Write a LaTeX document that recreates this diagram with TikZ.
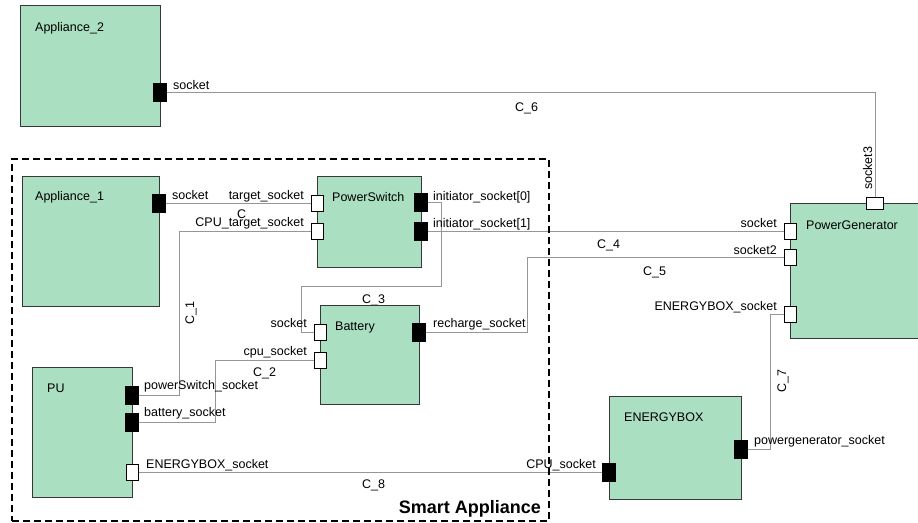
\documentclass[tikz,border=0pt]{standalone}
\usepackage{fontspec}
\setmainfont{Liberation Sans}
\usetikzlibrary{positioning}
\pgfdeclarelayer{bg}
\pgfsetlayers{bg,main}
\definecolor{blockgreen}{RGB}{170,223,193}
\definecolor{wiregray}{RGB}{150,150,150}
\definecolor{edgegray}{RGB}{55,55,55}

\begin{document}
\begin{tikzpicture}[
x=1pt, y=-1pt,
every node/.style={font=\fontsize{12.5}{14}\selectfont, inner sep=0pt},
block/.style={draw=edgegray, fill=blockgreen, line width=1pt, anchor=north west},
groupbox/.style={draw=black, line width=2.2pt, dash pattern=on 7pt off 4pt, anchor=north west},
plug/.style={draw=black, fill=black, minimum width=13pt, minimum height=18pt},
jack/.style={draw=black, fill=white, line width=0.9pt, minimum width=12pt, minimum height=16pt},
wire/.style={draw=wiregray, line width=1pt},
tag/.style={anchor=base west},
rtag/.style={anchor=base east},
vtag/.style={anchor=base west, rotate=90}
]
\useasboundingbox (0,0) rectangle (918,522);

% components
\node[groupbox, minimum width=537pt, minimum height=362pt] (smart) at (11,158) {};
\node[block, minimum width=140pt, minimum height=121pt] (app2) at (20,5) {};
\node[block, minimum width=137pt, minimum height=130pt] (app1) at (22,176) {};
\node[block, minimum width=104pt, minimum height=91pt] (pswitch) at (317,176) {};
\node[block, minimum width=99pt, minimum height=99pt] (battery) at (320,305) {};
\node[block, minimum width=100pt, minimum height=130pt] (pu) at (32,367) {};
\node[block, minimum width=132pt, minimum height=103pt] (ebox) at (609,396) {};
\node[block, minimum width=135pt, minimum height=135pt] (pgen) at (790,203) {};

\node[tag] (app2-name) at (35,31) {Appliance\_2};
\node[tag] (app1-name) at (35,200) {Appliance\_1};
\node[tag] (pswitch-name) at (332,201) {PowerSwitch};
\node[tag] (battery-name) at (335,330) {Battery};
\node[tag] (pu-name) at (47,392) {PU};
\node[tag] (ebox-name) at (624,421) {ENERGYBOX};
\node[tag] (pgen-name) at (806,229) {PowerGenerator};
\node[anchor=base east, font=\fontsize{18}{20}\selectfont\bfseries] (smart-name)
  at ([xshift=-9pt, yshift=9pt]smart.south east) {Smart Appliance};

% ports
\node[plug] (app2-sock) at (160,92) {};
\node[plug] (app1-sock) at (159,203) {};
\node[jack] (ps-tgt) at (317,203) {};
\node[jack] (ps-cpu) at (317,231) {};
\node[plug] (ps-i0) at (421,202) {};
\node[plug] (ps-i1) at (421,231) {};
\node[jack] (bat-sock) at (320,332) {};
\node[jack] (bat-cpu) at (320,360) {};
\node[plug] (bat-rch) at (419,332) {};
\node[plug] (pu-ps) at (132,395) {};
\node[plug] (pu-bat) at (132,422) {};
\node[jack] (pu-eb) at (132,472) {};
\node[plug] (eb-cpu) at (609,472) {};
\node[plug] (eb-pg) at (741,449) {};
\node[jack] (pg-sock) at (790,231) {};
\node[jack] (pg-s2) at (790,257) {};
\node[jack] (pg-eb) at (790,314) {};
\node[jack, minimum width=17pt, minimum height=12pt] (pg-s3) at (875,203) {};

\node[tag] (app2-sock-l) at (173,89) {socket};
\node[tag] (app1-sock-l) at (172,199) {socket};
\node[rtag] (ps-tgt-l) at (304,199) {target\_socket};
\node[rtag] (ps-cpu-l) at (304,226) {CPU\_target\_socket};
\node[tag] (ps-i0-l) at (433,200) {initiator\_socket[0]};
\node[tag] (ps-i1-l) at (433,227) {initiator\_socket[1]};
\node[rtag] (bat-sock-l) at (307,327) {socket};
\node[rtag] (bat-cpu-l) at (307,355) {cpu\_socket};
\node[tag] (bat-rch-l) at (433,327) {recharge\_socket};
\node[tag] (pu-ps-l) at (144,389) {powerSwitch\_socket};
\node[tag] (pu-bat-l) at (144,416) {battery\_socket};
\node[tag] (pu-eb-l) at (146,468) {ENERGYBOX\_socket};
\node[rtag] (eb-cpu-l) at (596,468) {CPU\_socket};
\node[tag] (eb-pg-l) at (754,444) {powergenerator\_socket};
\node[rtag] (pg-sock-l) at (777,227) {socket};
\node[rtag] (pg-s2-l) at (777,254) {socket2};
\node[rtag] (pg-eb-l) at (777,310) {ENERGYBOX\_socket};
\node[vtag] (pg-s3-l) at (872,190) {socket3};

% connectors
\begin{pgfonlayer}{bg}
\draw[wire] (app1-sock.east) -- (ps-tgt.west);
\draw[wire] (pu-ps.east) -- (179,395) |- (ps-cpu.west);
\draw[wire] (pu-bat.east) -- (215,422) |- (bat-cpu.west);
\draw[wire] (ps-i0.east) -| (441,286) -| (301,332) -- (bat-sock.west);
\draw[wire] (ps-i1.east) -- (pg-sock.west);
\draw[wire] (bat-rch.east) -| (527,257) -- (pg-s2.west);
\draw[wire] (app2-sock.east) -| (pg-s3.north);
\draw[wire] (eb-pg.east) -- (770,449) |- (pg-eb.west);
\draw[wire] (pu-eb.east) -- (eb-cpu.west);

\node[tag] (c0) at (237,218) {C};
\node[vtag] (c1) at (194,325) {C\_1};
\node[tag] (c2) at (253,376) {C\_2};
\node[tag] (c3) at (362,303) {C\_3};
\node[tag] (c4) at (597,248) {C\_4};
\node[tag] (c5) at (643,275) {C\_5};
\node[tag] (c6) at (515,111) {C\_6};
\node[vtag] (c7) at (786,393) {C\_7};
\node[tag] (c8) at (362,488) {C\_8};
\end{pgfonlayer}
\end{tikzpicture}
\end{document}
